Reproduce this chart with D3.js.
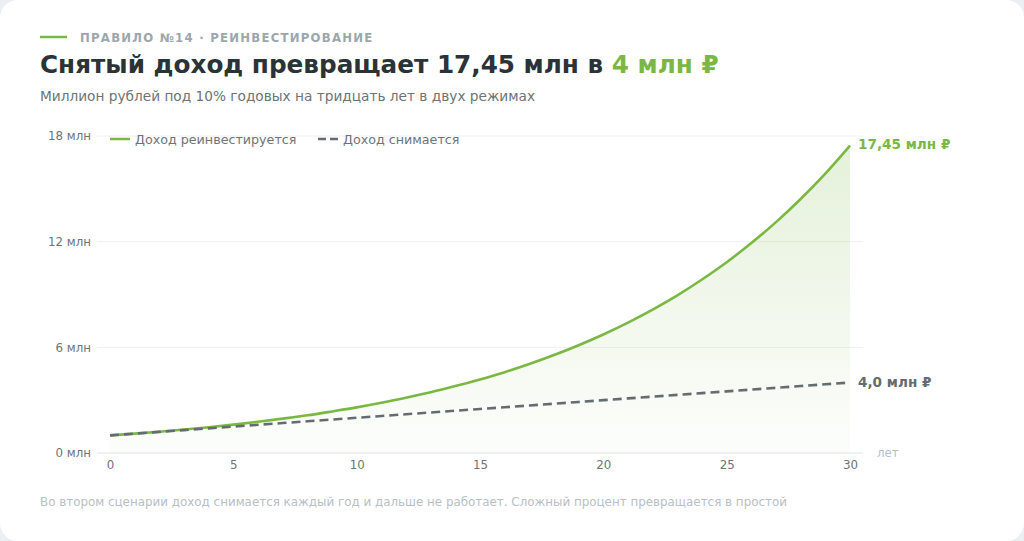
<!DOCTYPE html>
<html lang="ru">
<head>
<meta charset="UTF-8">
<title>Правило №14 · Реинвестирование</title>
<script src="https://d3js.org/d3.v7.min.js"></script>
<style>
  body { margin: 0; background: #eceff1; overflow: hidden; font-family: "DejaVu Sans", sans-serif; }
  svg { display: block; }
</style>
</head>
<body>
<svg id="chart" width="1024" height="541"></svg>
<script>
// years on the x axis
const years = d3.range(0, 31);
// capital when income is reinvested, mln rub
const reinvested = [1.00, 1.10, 1.21, 1.33, 1.46, 1.61, 1.77, 1.95, 2.14, 2.36,
  2.59, 2.85, 3.14, 3.45, 3.80, 4.18, 4.59, 5.05, 5.56, 6.12,
  6.73, 7.40, 8.14, 8.95, 9.85, 10.83, 11.92, 13.11, 14.42, 15.86, 17.45];
// capital + withdrawn income, mln rub
const withdrawn = [1.0, 1.1, 1.2, 1.3, 1.4, 1.5, 1.6, 1.7, 1.8, 1.9,
  2.0, 2.1, 2.2, 2.3, 2.4, 2.5, 2.6, 2.7, 2.8, 2.9,
  3.0, 3.1, 3.2, 3.3, 3.4, 3.5, 3.6, 3.7, 3.8, 3.9, 4.0];
const yTicks = [0, 6, 12, 18];
const xTicks = [0, 5, 10, 15, 20, 25, 30];
const seriesNames = ["Доход реинвестируется", "Доход снимается"];
const endLabels = ["17,45 млн ₽", "4,0 млн ₽"];

const green = "#7ab843";
const grey = "#646c71";

const svg = d3.select("#chart");
svg.append("rect").attr("width", 1024).attr("height", 541).attr("rx", 18).attr("fill", "#fff");

const x = d3.scaleLinear().domain([0, 30]).range([110, 850]);
const y = d3.scaleLinear().domain([0, 18]).range([453, 136]);

// header
svg.append("line").attr("x1", 40).attr("x2", 67).attr("y1", 37).attr("y2", 37)
  .attr("stroke", green).attr("stroke-width", 2.5);
svg.append("text").attr("x", 80).attr("y", 41.5)
  .attr("font-size", 11.7).attr("font-weight", "bold").attr("letter-spacing", 1.25)
  .attr("fill", "#9ca6ad").text("ПРАВИЛО №14 · РЕИНВЕСТИРОВАНИЕ");
const title = svg.append("text").attr("x", 40).attr("y", 73)
  .attr("font-size", 24.7).attr("font-weight", "bold").attr("fill", "#2a3336");
title.append("tspan").text("Снятый доход превращает 17,45 млн в ");
title.append("tspan").attr("fill", green).text("4 млн ₽");
svg.append("text").attr("x", 40).attr("y", 101).attr("font-size", 13.7)
  .attr("fill", "#6b7478").text("Миллион рублей под 10% годовых на тридцать лет в двух режимах");

// gradient for area
const grad = svg.append("defs").append("linearGradient").attr("id", "fade")
  .attr("gradientUnits", "userSpaceOnUse")
  .attr("x1", 0).attr("x2", 0).attr("y1", y(18)).attr("y2", y(0));
grad.append("stop").attr("offset", 0).attr("stop-color", green).attr("stop-opacity", 0.2);
grad.append("stop").attr("offset", 1).attr("stop-color", green).attr("stop-opacity", 0.02);

// grid
svg.append("g").selectAll("line").data(yTicks.filter(d => d > 0)).join("line")
  .attr("x1", 97).attr("x2", 863).attr("y1", d => y(d)).attr("y2", d => y(d))
  .attr("stroke", "#eef0f1").attr("stroke-width", 1);
svg.append("line").attr("x1", 97).attr("x2", 863).attr("y1", y(0)).attr("y2", y(0))
  .attr("stroke", "#dde6ea").attr("stroke-width", 1.2);

// axes
const yAxis = svg.append("g").attr("transform", "translate(91,0)")
  .call(d3.axisLeft(y).tickValues(yTicks).tickSize(0).tickPadding(0).tickFormat(d => d + " млн"));
yAxis.select(".domain").remove();
yAxis.selectAll("text").attr("font-family", "DejaVu Sans").attr("font-size", 11.8).attr("fill", "#6b7478");

const xAxis = svg.append("g").attr("transform", `translate(0,${y(0)})`)
  .call(d3.axisBottom(x).tickValues(xTicks).tickSize(0).tickPadding(8));
xAxis.select(".domain").remove();
xAxis.selectAll("text").attr("font-family", "DejaVu Sans").attr("font-size", 11.8).attr("fill", "#6b7478");
svg.append("text").attr("x", 877).attr("y", 457).attr("font-size", 11.8)
  .attr("fill", "#b4bdc2").text("лет");

// area + lines
svg.append("path").datum(years)
  .attr("d", d3.area().x(d => x(d)).y0(y(0)).y1(d => y(reinvested[d])).curve(d3.curveMonotoneX))
  .attr("fill", "url(#fade)");
svg.append("path").datum(years)
  .attr("d", d3.line().x(d => x(d)).y(d => y(reinvested[d])).curve(d3.curveMonotoneX))
  .attr("fill", "none").attr("stroke", green).attr("stroke-width", 2.6);
svg.append("path").datum(years)
  .attr("d", d3.line().x(d => x(d)).y(d => y(withdrawn[d])))
  .attr("fill", "none").attr("stroke", grey).attr("stroke-width", 2.6)
  .attr("stroke-dasharray", "9,5");

// end labels
svg.append("text").attr("x", 858).attr("y", y(17.45) + 3)
  .attr("font-size", 13.6).attr("font-weight", "bold").attr("fill", green).text(endLabels[0]);
svg.append("text").attr("x", 858).attr("y", y(4.0) + 4)
  .attr("font-size", 13.6).attr("font-weight", "bold").attr("fill", grey).text(endLabels[1]);

// legend
const leg = svg.append("g");
leg.append("line").attr("x1", 110).attr("x2", 130).attr("y1", 139).attr("y2", 139)
  .attr("stroke", green).attr("stroke-width", 2.5);
leg.append("text").attr("x", 135).attr("y", 143.5).attr("font-size", 12.7)
  .attr("fill", "#6b7478").text(seriesNames[0]);
leg.append("line").attr("x1", 318).attr("x2", 338).attr("y1", 139).attr("y2", 139)
  .attr("stroke", grey).attr("stroke-width", 2.5).attr("stroke-dasharray", "8,4");
leg.append("text").attr("x", 343).attr("y", 143.5).attr("font-size", 12.7)
  .attr("fill", "#6b7478").text(seriesNames[1]);

// footer
svg.append("text").attr("x", 40).attr("y", 506).attr("font-size", 11.9)
  .attr("fill", "#b7c0c5")
  .text("Во втором сценарии доход снимается каждый год и дальше не работает. Сложный процент превращается в простой");
</script>
</body>
</html>
